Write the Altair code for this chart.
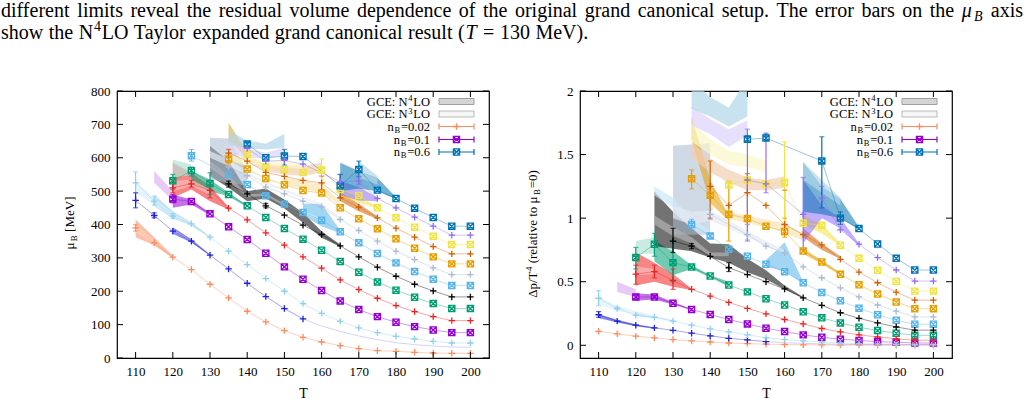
import altair as alt
import pandas as pd

SERIF = "Liberation Serif"

# ---------------------------------------------------------------- data
T_VALUES = [110, 115, 120, 125, 130, 135, 140, 145, 150, 155, 160, 165, 170, 175, 180, 185, 190, 195, 200]
X_TICKS = [110, 120, 130, 140, 150, 160, 170, 180, 190, 200]
MU_TICKS = [0, 100, 200, 300, 400, 500, 600, 700, 800]
DP_TICKS = [0, 0.5, 1, 1.5, 2]

N_B = [0.02, 0.04, 0.06, 0.1, 0.15, 0.2, 0.25, 0.3, 0.35, 0.4, 0.45, 0.5, 0.55, 0.6]
SERIES_COLORS = ["#ff8a5c", "#2020d8", "#8fd0ef", "#9400d3", "#f02020", "#009e73", "#000000",
                 "#56b4e9", "#a9bad2", "#e69f00", "#d55e00", "#f0e442", "#8f6cf5", "#0072b2"]
SERIES_MARKERS = ["plus", "plus", "plus", "box", "plus", "box", "plus",
                  "box", "plus", "box", "plus", "box", "plus", "box"]

# mu_B [MeV] per n_B, on T_VALUES
MU_B = [
    [390, 345, 302, 265, 221, 180, 140, 108, 82, 62, 48, 37, 28, 22, 20, 17, 15, 14, 14],
    [472, 427, 380, 350, 308, 267, 224, 184, 148, 117, None, None, None, None, None, None, None, None, None],
    [525, 470, 425, 402, 362, 320, 280, 238, 200, 163, 134, 110, 90, 76, 65, 57, 50, 45, 45],
    [None, None, 476, 469, 432, 393, 355, 314, 273, 236, 202, 171, 145, 124, 107, 94, 84, 76, 76],
    [None, None, 510, 522, 502, 449, 414, 375, 338, 303, 269, 234, 205, 179, 157, 139, 124, 112, 112],
    [None, None, 531, 561, 523, 490, 456, 421, 388, 356, 323, 289, 257, 228, 203, 182, 163, 148, 148],
    [None, None, None, None, None, 522, 492, 456, 428, 398, 370, 336, 303, 272, 245, 221, 201, 183, 183],
    [None, None, None, 606, None, 550, 520, 486, 461, 436, 413, 378, 345, 313, 285, 259, 236, 217, 217],
    [None, None, None, None, None, 573, 546, 512, 492, 470, 453, 415, 382, 350, 320, 295, 270, 250, 250],
    [None, None, None, None, None, 596, 566, 538, 519, 502, 494, 450, 417, 387, 357, 329, 303, 282, 282],
    [None, None, None, None, None, 614, 590, 556, 544, 532, 525, 480, 452, 420, 389, 362, 334, 312, 312],
    [None, None, None, None, None, None, 610, 572, 565, 556, 563, 505, 487, 450, 420, 392, 365, 340, 340],
    [None, None, None, None, None, None, 628, 590, 592, 581, None, 528, 530, 478, 450, 422, 395, 368, 368],
    [None, None, None, None, None, None, 641, 600, 605, 604, None, 516, 565, 503, 478, 449, 421, 395, 395],
]

# Delta p / T^4 per n_B, on T_VALUES
DELTA_P = [
    [0.11, 0.09, 0.072, 0.058, 0.045, 0.034, 0.026, 0.018, 0.013, 0.009, 0.006, 0.004, 0.003, 0.002, 0.002, 0.001, 0.001, 0.001, 0.001],
    [0.24, 0.19, 0.158, 0.137, 0.118, 0.095, 0.074, 0.055, 0.042, 0.029, None, None, None, None, None, None, None, None, None],
    [0.37, 0.29, 0.237, 0.22, 0.19, 0.158, 0.129, 0.105, 0.082, 0.06, 0.045, 0.034, 0.026, 0.018, 0.013, 0.01, 0.008, 0.006, 0.006],
    [None, None, 0.38, 0.38, 0.33, 0.282, 0.242, 0.203, 0.168, 0.134, 0.108, 0.082, 0.063, 0.048, 0.038, 0.029, 0.024, 0.018, 0.018],
    [None, None, 0.56, 0.58, 0.51, 0.44, 0.387, 0.337, 0.29, 0.247, 0.203, 0.168, 0.132, 0.105, 0.082, 0.065, 0.051, 0.04, 0.04],
    [None, None, 0.69, 0.795, 0.65, 0.615, 0.545, 0.474, 0.42, 0.366, 0.317, 0.264, 0.216, 0.176, 0.142, 0.116, 0.095, 0.079, 0.079],
    [None, None, None, None, 0.82, 0.78, 0.70, 0.61, 0.556, 0.5, 0.443, 0.373, 0.314, 0.256, 0.212, 0.176, 0.144, 0.119, 0.119],
    [None, None, None, None, None, 0.95, 0.86, 0.755, 0.70, 0.637, 0.579, 0.492, 0.415, 0.35, 0.292, 0.24, 0.197, 0.166, 0.166],
    [None, None, None, None, None, None, 1.03, None, 0.87, 0.78, 0.728, 0.617, 0.531, 0.452, 0.38, 0.317, 0.268, 0.223, 0.223],
    [None, None, None, None, None, 1.31, 1.18, 1.03, 0.997, 0.937, 0.895, 0.742, 0.655, 0.558, 0.476, 0.403, 0.34, 0.288, 0.288],
    [None, None, None, None, None, None, 1.25, 1.1, 1.2, 1.1, 0.95, 0.87, 0.79, 0.676, 0.576, 0.492, 0.418, 0.355, 0.355],
    [None, None, None, None, None, None, None, 1.26, 1.3, 1.27, 1.28, 0.96, 0.945, 0.787, 0.684, 0.59, 0.502, 0.426, 0.426],
    [None, None, None, None, None, None, None, None, 1.3, 1.27, None, 1.03, 1.16, 0.908, 0.795, 0.69, 0.592, 0.505, 0.505],
    [None, None, None, None, None, None, None, None, 1.62, 1.63, None, None, 1.45, 1.0, 0.918, 0.797, 0.684, 0.592, 0.592],
]

# curve of the n_B=0.04 series beyond its last point
TAIL_SERIES = 1
TAIL_T = [155, 160, 165, 170, 175, 180, 185, 190, 195, 200]
MU_B_TAIL = [117, 96, 80, 66, 55, 46, 40, 36, 33, 32]
DELTA_P_TAIL = [0.029, 0.02, 0.015, 0.011, 0.008, 0.006, 0.005, 0.005, 0.005, 0.005]

# GCE bands, per series: list of segments of [T, low, high]
MU_N4LO = [
    [[[110, 362, 415], [115, 338, 362], [120, 299, 306]]],
    [[[120, 372, 392], [125, 346, 356], [130, 306, 310]]],
    [[[115, 455, 490], [120, 418, 440], [125, 396, 406], [130, 360, 364]]],
    [[[120, 450, 490], [125, 460, 475], [130, 428, 434]]],
    [[[120, 480, 585], [125, 505, 555], [130, 470, 515], [135, 445, 452]]],
    [[[125, 525, 560], [130, 500, 535], [135, 485, 495], [140, 452, 458]]],
    [[[130, 545, 635], [135, 510, 590], [140, 470, 500], [145, 478, 508], [150, 448, 475],
      [155, 405, 435], [160, 360, 380], [165, 333, 340]]],
    [[[155, 428, 462], [160, 395, 462], [165, 374, 382]]],
    [[[130, 535, 660], [135, 525, 658], [140, 515, 560]]],
    [[[135, 655, 705], [140, 598, 615]]],
    [[[165, 470, 497], [170, 440, 462], [175, 416, 425]]],
    [[[165, 485, 508], [170, 465, 482], [175, 448, 454]]],
    [[[165, 488, 530], [170, 472, 512], [175, 470, 482]]],
    [[[165, 500, 585], [170, 508, 560], [175, 500, 540], [180, 476, 482]]],
]
MU_N3LO = [
    [[[110, 378, 398], [115, 343, 351]]],
    [[[120, 377, 385], [125, 349, 353]]],
    [[[110, 495, 530], [115, 458, 478], [120, 421, 432], [125, 398, 404]]],
    [[[115, 525, 560], [120, 472, 500]]],
    [[[120, 500, 530], [125, 515, 535], [130, 490, 505]]],
    [[[120, 540, 595], [125, 548, 580]]],
    [[[130, 570, 590], [135, 530, 548], [140, 482, 490], [145, 486, 494], [150, 455, 462]]],
    [[[155, 432, 440], [160, 410, 420]]],
    [[[130, 600, 620], [135, 575, 595], [140, 548, 556], [145, 520, 528], [150, 500, 506],
      [155, 478, 484], [160, 457, 462], [165, 418, 422]]],
    [[[150, 520, 540], [155, 508, 532], [160, 495, 520], [165, 458, 470]]],
    [[[140, 588, 600], [145, 560, 582], [150, 550, 578], [155, 545, 575], [160, 556, 586]]],
    [[[135, 588, 612], [140, 580, 600], [145, 575, 592], [150, 573, 590], [155, 565, 578]]],
    [[[135, 612, 650], [140, 600, 628], [145, 598, 615], [150, 608, 630]]],
    [[[135, 640, 682], [140, 628, 652], [145, 625, 642], [150, 630, 672]],
     [[170, 540, 590], [175, 520, 545]]],
]
DP_N4LO = [
    [],
    [[[110, 0.215, 0.245], [115, 0.18, 0.2], [120, 0.15, 0.165], [125, 0.13, 0.14]]],
    [[[120, 0.23, 0.26], [125, 0.21, 0.225]]],
    [[[120, 0.35, 0.41], [125, 0.36, 0.40], [130, 0.32, 0.34], [135, 0.275, 0.285]]],
    [[[120, 0.47, 0.73], [125, 0.5, 0.65], [130, 0.46, 0.56], [135, 0.435, 0.445]]],
    [[[125, 0.66, 0.82], [130, 0.55, 0.74], [135, 0.6, 0.63], [140, 0.535, 0.55], [145, 0.46, 0.5]]],
    [[[125, 0.78, 1.21], [130, 0.76, 1.05], [135, 0.74, 0.92], [140, 0.69, 0.8], [145, 0.65, 0.795],
      [150, 0.575, 0.68], [155, 0.52, 0.59], [160, 0.44, 0.47], [165, 0.37, 0.38]]],
    [[[155, 0.62, 0.67], [160, 0.58, 0.81], [165, 0.485, 0.5]]],
    [[[130, 0.87, 1.57], [135, 0.87, 1.58], [140, 0.87, 1.59]]],
    [[[135, 1.62, 1.8], [140, 1.12, 1.3], [145, 0.98, 1.02]],
     [[165, 0.72, 0.76], [170, 0.64, 0.67], [175, 0.55, 0.57]]],
    [[[165, 0.85, 0.92], [170, 0.75, 0.8], [175, 0.68, 0.7]]],
    [[[165, 0.95, 1.02], [170, 0.88, 0.95], [175, 0.78, 0.8]]],
    [[[165, 0.8, 1.3], [170, 1.0, 1.1], [175, 0.92, 1.0], [180, 0.78, 0.8]]],
    [[[165, 1.05, 1.44], [170, 1.03, 1.25], [175, 1.0, 1.15], [180, 0.91, 0.93]]],
]
DP_N3LO = [
    [],
    [],
    [[[110, 0.32, 0.38], [115, 0.27, 0.31], [120, 0.24, 0.27], [125, 0.215, 0.235], [130, 0.185, 0.2]]],
    [[[115, 0.42, 0.5], [120, 0.38, 0.44]]],
    [[[120, 0.55, 0.62], [125, 0.56, 0.6]]],
    [[[120, 0.72, 0.82], [125, 0.72, 0.85]]],
    [[[125, 0.95, 1.02], [130, 0.86, 0.93], [135, 0.8, 0.85], [140, 0.7, 0.73], [145, 0.7, 0.73]]],
    [[[125, 1.18, 1.25], [130, 1.08, 1.16], [135, 0.93, 1.0], [140, 0.85, 0.9]]],
    [[[130, 1.0, 1.1], [135, 0.95, 1.05], [140, 0.98, 1.06], [145, 0.92, 0.98], [150, 0.85, 0.9],
      [155, 0.78, 0.82], [160, 0.72, 0.75]]],
    [[[145, 1.0, 1.05], [150, 0.96, 1.02], [155, 0.93, 0.99], [160, 0.89, 0.96], [165, 0.82, 0.88]]],
    [[[135, 1.47, 1.6], [140, 1.36, 1.47], [145, 1.28, 1.38], [150, 1.22, 1.32], [155, 1.22, 1.3], [160, 1.24, 1.33]]],
    [[[135, 1.6, 1.75], [140, 1.5, 1.62], [145, 1.42, 1.53], [150, 1.4, 1.5], [155, 1.36, 1.45]]],
    [[[135, 1.73, 1.88], [140, 1.66, 1.78], [145, 1.56, 1.7], [150, 1.65, 1.77]]],
    [[[135, 1.86, 2.1], [140, 1.8, 1.95], [145, 1.72, 1.87], [150, 1.8, 2.1]],
     [[165, 1.3, 1.44], [170, 1.2, 1.3], [175, 1.1, 1.16]]],
]

# error bars: (series, T, low, high)
MU_ERRORS = [
    (0, 110, 380, 400),
    (1, 110, 450, 495), (1, 115, 420, 435),
    (2, 110, 495, 558), (2, 115, 458, 485), (2, 120, 418, 432),
    (3, 120, 465, 490),
    (4, 120, 495, 530), (4, 125, 512, 532), (4, 130, 480, 520),
    (5, 120, 505, 550), (5, 125, 545, 572), (5, 130, 490, 555),
    (6, 135, 512, 530), (6, 145, 450, 463),
    (7, 125, 590, 625),
    (9, 135, 578, 612),
    (10, 135, 585, 625), (10, 160, 505, 545),
    (11, 160, 525, 597),
    (12, 165, 500, 550), (12, 170, 520, 545),
    (13, 140, 633, 648), (13, 150, 578, 625), (13, 165, 480, 550), (13, 170, 543, 590),
]
DP_ERRORS = [
    (1, 110, 0.22, 0.265),
    (2, 110, 0.31, 0.43), (2, 115, 0.28, 0.30),
    (3, 120, 0.36, 0.40), (3, 125, 0.37, 0.395),
    (4, 120, 0.48, 0.63), (4, 125, 0.53, 0.63), (4, 130, 0.44, 0.6),
    (5, 120, 0.6, 0.77), (5, 125, 0.7, 0.88), (5, 130, 0.5, 0.8),
    (6, 130, 0.73, 0.92), (6, 135, 0.76, 0.8), (6, 145, 0.58, 0.65),
    (7, 135, 0.91, 0.99), (7, 140, 0.84, 0.88),
    (8, 140, 0.99, 1.07), (8, 150, 0.83, 0.95),
    (9, 135, 1.23, 1.38), (9, 145, 0.82, 1.29), (9, 160, 0.85, 1.0),
    (10, 140, 1.0, 1.45), (10, 150, 0.95, 1.35), (10, 160, 0.87, 1.22),
    (11, 145, 1.25, 1.28), (11, 160, 0.95, 1.6),
    (12, 150, 0.82, 1.7), (12, 155, 1.2, 1.67), (12, 165, 0.75, 1.32), (12, 170, 1.08, 1.25),
    (13, 150, 1.6, 1.65), (13, 155, 1.61, 1.66), (13, 170, 1.08, 1.64), (13, 175, 0.95, 1.05),
]

CAPTION_LINE_1 = "different limits reveal the residual volume dependence of the original grand canonical setup. The error bars on the"
CAPTION_LINE_2 = "show the N4LO Taylor expanded grand canonical result (T = 130 MeV)."

# ---------------------------------------------------------------- layout
W, H = 372, 267
XS = alt.Scale(domain=[105, 205], nice=False, zero=False)
PLUS = "M-1,0H1M0,-1V1"
BOXX = "M-1,-1H1V1H-1Z M-1,-1L1,1 M1,-1L-1,1"
PIECE_GAP = 0.8

# Times-compatible advance widths (per 1000 em) for placing text pieces
GLYPH_W = {' ': 250, '.': 250, ',': 250, ':': 278, '(': 333, ')': 333, '[': 333, ']': 333,
           '=': 564, '/': 278, 'μ': 576, 'Δ': 612}
GLYPH_W.update({c: 500 for c in "0123456789"})
GLYPH_W.update(dict(zip("abcdefghijklmnopqrstuvwxyz",
                        [444, 500, 444, 500, 444, 333, 500, 500, 278, 278, 500, 278, 778,
                         500, 500, 500, 500, 333, 389, 278, 500, 500, 722, 500, 500, 444])))
GLYPH_W.update(dict(zip("ABCDEFGHIJKLMNOPQRSTUVWXYZ",
                        [722, 667, 667, 722, 611, 556, 722, 722, 333, 389, 722, 611, 889,
                         722, 722, 556, 722, 667, 556, 611, 722, 722, 944, 722, 722, 611])))


def text_width(s, size):
    return sum(GLYPH_W.get(c, 500) for c in s) * size / 1000.0


def lay(tokens, gap):
    """Place tokens (lists of (text, size, italic, dy) pieces) along a line."""
    out, x = [], 0.0
    for k, tok in enumerate(tokens):
        if k:
            x += gap
        for j, (text, size, italic, dy) in enumerate(tok):
            if j:
                x += PIECE_GAP
            out.append((x, text, size, italic, dy))
            x += text_width(text, size)
    return out, x


def words(s, size):
    return [[(w, size, False, 0)] for w in s.split()]


def tint(hex_color, f):
    h = hex_color.lstrip("#")
    rgb = [int(h[i:i + 2], 16) for i in (0, 2, 4)]
    return "#" + "".join("{:02x}".format(round(c + (255 - c) * f)) for c in rgb)


def point_frame(values):
    rows = []
    for s, vals in enumerate(values):
        for t, v in zip(T_VALUES, vals):
            if v is not None:
                rows.append({"series": s, "T": t, "v": v, "color": SERIES_COLORS[s],
                             "marker": SERIES_MARKERS[s]})
    return pd.DataFrame(rows)


def tail_frame(tail):
    return pd.DataFrame({"series": TAIL_SERIES, "T": TAIL_T, "v": tail,
                         "color": SERIES_COLORS[TAIL_SERIES]})


def band_frame(bands, light):
    rows = []
    for s, segments in enumerate(bands):
        fill = tint(SERIES_COLORS[s], 0.7) if light else SERIES_COLORS[s]
        for g, seg in enumerate(segments):
            for t, lo, hi in seg:
                rows.append({"group": f"{s}-{g}", "T": t, "lo": lo, "hi": hi, "fill": fill})
    return pd.DataFrame(rows)


def error_frame(errors):
    return pd.DataFrame([{"T": t, "lo": lo, "hi": hi, "color": SERIES_COLORS[s]}
                         for s, t, lo, hi in errors])


def text_layer(rows, italic=False, angle=None):
    props = dict(align="left", baseline="alphabetic", font=SERIF, color="black")
    if italic:
        props["fontStyle"] = "italic"
    if angle is not None:
        props["angle"] = angle
    return alt.Chart(pd.DataFrame(rows)).mark_text(**props).encode(
        x=alt.X("px:Q", scale=None, axis=None),
        y=alt.Y("py:Q", scale=None, axis=None),
        text="text:N",
        size=alt.Size("size:Q", scale=None, legend=None),
    )


def legend_layers():
    ys = [10.5, 23, 35.5, 48.5, 61]
    x_end, s0, s1 = 313, 322, 357
    fs, sub = 12.5, 8.5
    labels = [
        [[("GCE:", fs, False, 0)], [("N", fs, False, 0), ("4", sub, False, -4.5), ("LO", fs, False, 0)]],
        [[("GCE:", fs, False, 0)], [("N", fs, False, 0), ("3", sub, False, -4.5), ("LO", fs, False, 0)]],
    ]
    for s in (0, 3, 13):
        labels.append([[("n", fs, False, 0), ("B", sub, False, 2), ("={:g}".format(N_B[s]), fs, False, 0)]])
    rows = []
    for y, toks in zip(ys, labels):
        placed, total = lay(toks, text_width(" ", fs))
        for x, text, size, _, dy in placed:
            rows.append({"px": x_end - total + x, "py": y + 4 + dy, "text": text, "size": size})
    layers = [text_layer(rows)]
    rects = pd.DataFrame({"x": [s0, s0], "x2": [s1, s1], "y": [ys[0] - 3, ys[1] - 3],
                          "y2": [ys[0] + 3, ys[1] + 3],
                          "fill": ["#d6d6d6", "#f6f6f6"], "stroke": ["#a0a0a0", "#b8b8b8"]})
    layers.append(alt.Chart(rects).mark_rect(strokeWidth=1).encode(
        x=alt.X("x:Q", scale=None, axis=None), x2="x2:Q",
        y=alt.Y("y:Q", scale=None, axis=None), y2="y2:Q",
        fill=alt.Fill("fill:N", scale=None), stroke=alt.Stroke("stroke:N", scale=None)))
    cols = [SERIES_COLORS[s] for s in (0, 3, 13)]
    marks = [SERIES_MARKERS[s] for s in (0, 3, 13)]
    lines = pd.DataFrame({"x": s0, "x2": s1, "y": ys[2:], "color": cols})
    layers.append(alt.Chart(lines).mark_rule(strokeWidth=1.2).encode(
        x=alt.X("x:Q", scale=None, axis=None), x2="x2:Q",
        y=alt.Y("y:Q", scale=None, axis=None), color=alt.Color("color:N", scale=None)))
    caps = pd.DataFrame([{"x": x, "y": y - 3, "y2": y + 3, "color": c}
                         for y, c in zip(ys[2:], cols) for x in (s0, s1)])
    layers.append(alt.Chart(caps).mark_rule(strokeWidth=1.2).encode(
        x=alt.X("x:Q", scale=None, axis=None),
        y=alt.Y("y:Q", scale=None, axis=None), y2="y2:Q",
        color=alt.Color("color:N", scale=None)))
    mid = pd.DataFrame({"x": (s0 + s1) / 2, "y": ys[2:], "color": cols, "marker": marks})
    for name, path, size in (("plus", PLUS, 42), ("box", BOXX, 38)):
        layers.append(alt.Chart(mid).transform_filter(alt.datum.marker == name).mark_point(
            shape=path, size=size, filled=False, strokeWidth=1.3, opacity=1).encode(
            x=alt.X("x:Q", scale=None, axis=None), y=alt.Y("y:Q", scale=None, axis=None),
            color=alt.Color("color:N", scale=None)))
    return layers


def y_title_layer(tokens, y_center):
    placed, total = lay(tokens, text_width(" ", 13))
    y0 = y_center + total / 2
    rows = [{"px": -43.5 + dy, "py": y0 - x, "text": text, "size": size}
            for x, text, size, _, dy in placed]
    return text_layer(rows, angle=270)


def caption_layers():
    fs, small = 20, 14
    line1 = words(CAPTION_LINE_1, fs) + [[("μ", fs, True, 0), ("B", small, True, 4)]] + [[("axis", fs, False, 0)]]
    natural = sum(lay([t], 0)[1] for t in line1)
    gap = (1022 - natural) / (len(line1) - 1)
    p1, _ = lay(line1, gap)
    head, tail = CAPTION_LINE_2.split("N4LO")
    pre_t, post_t = tail.split("(T")
    line2 = (words(head, fs) + [[("N", fs, False, 0), ("4", small, False, -8), ("LO", fs, False, 0)]]
             + words(pre_t, fs) + [[("(", fs, False, 0), ("T", fs, True, 0)]] + words(post_t, fs))
    p2, _ = lay(line2, text_width(" ", fs) + 0.5)
    normal, italic = [], []
    for placed, base in ((p1, 16), (p2, 38)):
        for x, text, size, it, dy in placed:
            row = {"px": -116 + x, "py": base - 90 + dy, "text": text, "size": size}
            (italic if it else normal).append(row)
    return [text_layer(normal), text_layer(italic, italic=True)]


def panel(values, tail, n4, n3, errors, ydomain, yticks, yfmt, title_tokens, title_center, extra=()):
    ys = alt.Scale(domain=ydomain, nice=False, zero=False)
    xaxis = alt.Axis(values=X_TICKS, title="T", format="d", labelFlush=False)
    yaxis = alt.Axis(values=yticks, title=None, format=yfmt, labelFlush=False)

    def band(df, opacity):
        return alt.Chart(df).mark_area(opacity=opacity, clip=True).encode(
            x=alt.X("T:Q", scale=XS, axis=xaxis),
            y=alt.Y("lo:Q", scale=ys, axis=yaxis), y2="hi:Q",
            detail="group:N", fill=alt.Fill("fill:N", scale=None))

    def curve(df, opacity):
        return alt.Chart(df).mark_line(strokeWidth=0.9, opacity=opacity, clip=True).encode(
            x=alt.X("T:Q", scale=XS, axis=xaxis), y=alt.Y("v:Q", scale=ys, axis=yaxis),
            detail="series:N", order="T:Q", color=alt.Color("color:N", scale=None))

    err = error_frame(errors)
    pts = point_frame(values)
    layers = [
        band(band_frame(n4, False), 0.55),
        band(band_frame(n3, True), 0.7),
        curve(pts, 0.45),
        curve(tail_frame(tail), 0.22),
        alt.Chart(err).mark_rule(strokeWidth=1.2, clip=True).encode(
            x=alt.X("T:Q", scale=XS, axis=xaxis), y=alt.Y("lo:Q", scale=ys, axis=yaxis), y2="hi:Q",
            color=alt.Color("color:N", scale=None)),
    ]
    for end in ("lo", "hi"):
        layers.append(alt.Chart(err).mark_tick(orient="horizontal", size=5, thickness=1.2, clip=True).encode(
            x=alt.X("T:Q", scale=XS, axis=xaxis), y=alt.Y(f"{end}:Q", scale=ys, axis=yaxis),
            color=alt.Color("color:N", scale=None)))
    for name, path, size in (("box", BOXX, 38), ("plus", PLUS, 42)):
        layers.append(alt.Chart(pts).transform_filter(alt.datum.marker == name).mark_point(
            shape=path, size=size, filled=False, strokeWidth=1.3, opacity=1, clip=True).encode(
            x=alt.X("T:Q", scale=XS, axis=xaxis), y=alt.Y("v:Q", scale=ys, axis=yaxis),
            color=alt.Color("color:N", scale=None)))
    # inward ticks on all four sides of the frame
    xt = alt.Chart(pd.DataFrame({"T": X_TICKS})).mark_rule(color="black", strokeWidth=1)
    yt = alt.Chart(pd.DataFrame({"v": yticks})).mark_rule(color="black", strokeWidth=1)
    layers += [
        xt.encode(x=alt.X("T:Q", scale=XS, axis=xaxis), y=alt.value(H), y2=alt.value(H - 6)),
        xt.encode(x=alt.X("T:Q", scale=XS, axis=xaxis), y=alt.value(0), y2=alt.value(6)),
        yt.encode(y=alt.Y("v:Q", scale=ys, axis=yaxis), x=alt.value(0), x2=alt.value(6)),
        yt.encode(y=alt.Y("v:Q", scale=ys, axis=yaxis), x=alt.value(W), x2=alt.value(W - 6)),
    ]
    layers += legend_layers()
    layers.append(y_title_layer(title_tokens, title_center))
    layers += list(extra)
    return alt.layer(*layers).properties(width=W, height=H)


# invisible anchor fixing the page origin relative to the left plot
anchor = alt.Chart(pd.DataFrame({"a": [0]})).mark_rule(opacity=0).encode(
    x=alt.value(-116), y=alt.value(-90), y2=alt.value(-88))

mu_title = [[("μ", 13, False, 0), ("B", 9, False, 3)], [("[MeV]", 13, False, 0)]]
dp_title = [[("Δp/T", 13, False, 0), ("4", 9, False, -5)], [("(relative", 13, False, 0)],
            [("to", 13, False, 0)], [("μ", 13, False, 0), ("B", 9, False, 3), ("=0)", 13, False, 0)]]

left = panel(MU_B, MU_B_TAIL, MU_N4LO, MU_N3LO, MU_ERRORS, [0, 800], MU_TICKS, "d",
             mu_title, 132, extra=[anchor] + caption_layers())
right = panel(DELTA_P, DELTA_P_TAIL, DP_N4LO, DP_N3LO, DP_ERRORS, [-0.1, 2], DP_TICKS, "~g",
              dp_title, 143)

chart = alt.hconcat(left, right, spacing=91, bounds="flush").properties(
    padding=0
).configure_view(
    stroke="black", strokeWidth=1.2
).configure_axis(
    labelFont=SERIF, labelFontSize=13, labelColor="black",
    titleFont=SERIF, titleFontSize=14, titleFontWeight="normal", titleColor="black",
    ticks=False, domain=False, grid=False, labelPadding=7, titlePadding=8,
)

chart.save("out.html", embed_options={"renderer": "svg", "actions": False})
